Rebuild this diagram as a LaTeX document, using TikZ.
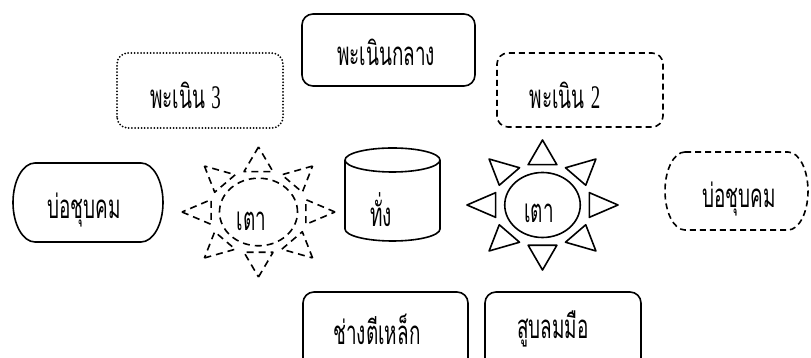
\documentclass[tikz,border=0pt]{standalone}
\usepackage{fontspec}
\setmainfont{Liberation Serif}
\newfontfamily\thai[Script=Thai]{Loma}
\begin{document}
\begin{tikzpicture}[x=1pt,y=1pt,
  ln/.style={line width=1.6pt, line join=round},
  dsh/.style={ln, dash pattern=on 6pt off 4pt},
  dts/.style={line width=2pt, line cap=round, dash pattern=on 0pt off 3.2pt},
  lbl/.style={inner sep=0pt, xscale=0.86, yscale=1.5, transform shape, font=\fontsize{22}{26}\selectfont\thai}
]
\useasboundingbox (0,0) rectangle (811,358);
\clip (0,0) rectangle (811,358);
% top boxes
\draw[ln, rounded corners=11pt] (302,272) rectangle (475,344);
\node[lbl] (pcen) at (386,306) {พะเนินกลาง};
\draw[dts, rounded corners=11pt] (117,230) rectangle (283,305);
\node[lbl] (p3) at (185.5,263) {พะเนิน {\rmfamily 3}};
\draw[dsh, rounded corners=11pt] (497,231) rectangle (663,305);
\node[lbl] (p2) at (565,263) {พะเนิน {\rmfamily 2}};
% left terminator
\draw[ln] (35,195) -- (141,195) arc[start angle=90, end angle=-90, x radius=22, y radius=39.5]
  -- (35,116) arc[start angle=270, end angle=90, x radius=22, y radius=39.5] -- cycle;
\node[lbl] (pl) at (84,148) {บ่อชุบคม};
% right terminator dashed
\draw[dsh] (685,206) -- (788,206) arc[start angle=90, end angle=-90, x radius=20, y radius=39]
  -- (685,128) arc[start angle=270, end angle=90, x radius=20, y radius=39] -- cycle;
\node[lbl] (pr) at (739,159) {บ่อชุบคม};
% left sun dashed
\begin{scope}[shift={(258.5,146)}, xscale=76.5, yscale=65]
  \draw[dsh, dash pattern=on 7pt off 5pt] (0,0) ellipse[x radius=0.51, y radius=0.52];
  \foreach \a in {0,45,...,315}
    \draw[dsh, dash pattern=on 7pt off 5pt] ({cos(\a)},{sin(\a)}) -- ({0.62*cos(\a)-0.19*sin(\a)},{0.62*sin(\a)+0.19*cos(\a)}) -- ({0.62*cos(\a)+0.19*sin(\a)},{0.62*sin(\a)-0.19*cos(\a)}) -- cycle;
\end{scope}
\node[lbl] (tl) at (251.5,137) {เตา};
% cylinder
\draw[ln] (345,198) -- (345,129) arc[start angle=180, end angle=360, x radius=47.5, y radius=12] -- (440,198);
\draw[ln] (392.5,198) ellipse[x radius=47.5, y radius=12];
\node[lbl] (tang) at (381,148) {ทั่ง};
% right sun
\begin{scope}[shift={(542.5,153)}, xscale=75.5, yscale=65]
  \draw[ln] (0,0) ellipse[x radius=0.5, y radius=0.5];
  \foreach \a in {0,45,...,315}
    \draw[ln] ({cos(\a)},{sin(\a)}) -- ({0.62*cos(\a)-0.19*sin(\a)},{0.62*sin(\a)+0.19*cos(\a)}) -- ({0.62*cos(\a)+0.19*sin(\a)},{0.62*sin(\a)-0.19*cos(\a)}) -- cycle;
\end{scope}
\node[lbl] (tr) at (539,145) {เตา};
% bottom boxes
\draw[ln, rounded corners=11pt] (303,-30) rectangle (468,66);
\node[lbl] (smith) at (377,29) {ช่างตีเหล็ก};
\draw[ln, rounded corners=11pt] (485,-30) rectangle (641,66);
\node[lbl] (bell) at (553,29) {สูบลมมือ};
\end{tikzpicture}
\end{document}
